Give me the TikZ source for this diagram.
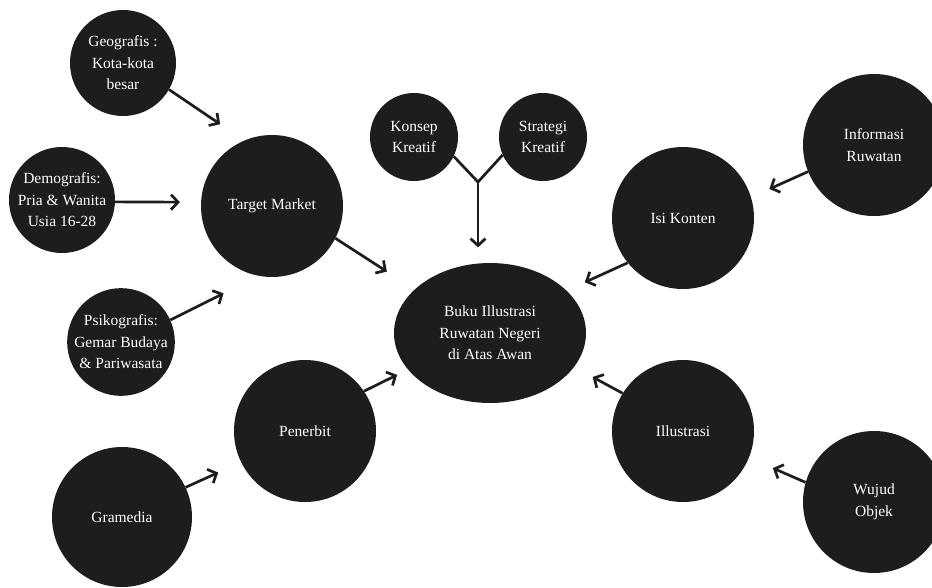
\documentclass[tikz,border=0pt]{standalone}
\usepackage{fontspec}
\setmainfont{Liberation Serif}
\usetikzlibrary{arrows.meta,shapes.geometric}
\definecolor{bubble}{HTML}{1C1D1F}
\tikzset{>={Straight Barb[length=7pt,width=15pt]}}
\tikzset{
  bubble/.style={circle, fill=bubble, text=white, align=center, inner sep=0pt,
    font=\fontsize{15.5}{21.5}\selectfont},
  link/.style={->, line width=2.7pt, draw=bubble}
}

\begin{document}
\begin{tikzpicture}[x=1pt, y=-1pt]

  \useasboundingbox (0,0) rectangle (932,587);

  %% segmentasi
  \node[bubble, minimum size=106pt] (geo) at (123,63) {Geografis :\\Kota-kota\\besar};
  \node[bubble, minimum size=106pt] (demo) at (62,200) {Demografis:\\Pria \& Wanita\\Usia 16-28};
  \node[bubble, minimum size=106pt] (psi) at (121,342) {Psikografis:\\Gemar Budaya\\\& Pariwasata};
  \node[bubble, minimum size=142pt] (tm) at (272,206) {Target Market};

  %% konsep
  \node[bubble, minimum size=88pt] (kon) at (414,137) {Konsep\\Kreatif};
  \node[bubble, minimum size=88pt] (str) at (543,137) {Strategi\\Kreatif};

  %% buku
  \node[bubble, ellipse, minimum width=192pt, minimum height=140pt] (buku) at (490,333)
  {Buku Illustrasi\\Ruwatan Negeri\\di Atas Awan};

  %% isi
  \node[bubble, minimum size=142pt] (isi) at (683,218) {Isi Konten};
  \node[bubble, minimum size=142pt] (info) at (874,145) {Informasi\\Ruwatan};
  \node[bubble, minimum size=142pt] (ill) at (683,431) {Illustrasi};
  \node[bubble, minimum size=142pt] (wujud) at (874,502) {Wujud\\Objek};

  %% penerbit
  \node[bubble, minimum size=142pt] (pen) at (305,431) {Penerbit};
  \node[bubble, minimum size=140pt] (gram) at (122,517) {Gramedia};

  %% segmentasi to target market
  \draw[link, shorten >=29pt] (geo.-30) -- (tm.113);
  \draw[link, shorten >=21pt] (demo.-2) -- (tm.177);
  \draw[link, shorten >=39pt] (psi.24) -- (tm.-101);

  %% into buku
  \draw[link, shorten >=33pt] (tm.-27) -- (buku.150);
  \draw[link, shorten >=20pt] (isi.-141) -- (buku.29);
  \draw[link, shorten >=12pt] (pen.34) -- (buku.-156);
  \draw[link, shorten >=21pt] (ill.148) -- (buku.-22);

  %% side inputs
  \draw[link, shorten >=20pt] (info.-158) -- (isi.17);
  \draw[link, shorten >=25pt] (gram.25) -- (pen.-154);
  \draw[link, shorten >=26pt] (wujud.164) -- (ill.-22);

  %% konsep + strategi merge
  \coordinate (merge) at (478,182);
  \draw[line width=2.7pt, draw=bubble] (kon.-26) -- (merge) -- (str.-156);
  \draw[link, shorten >=16pt] (merge) -- (merge |- buku.100);

\end{tikzpicture}
\end{document}
